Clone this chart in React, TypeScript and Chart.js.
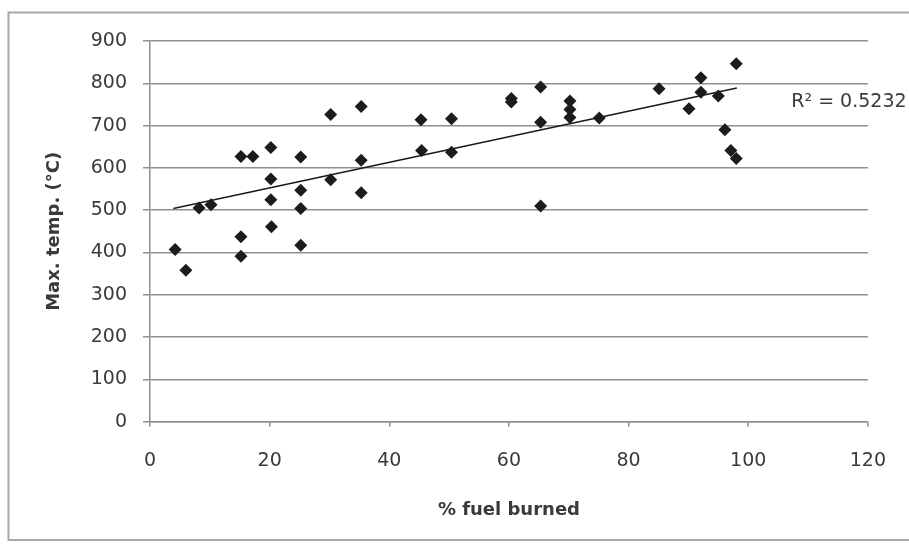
import React, { useEffect, useRef } from "react";
import { Chart, registerables } from "chart.js";

Chart.register(...registerables);

// % fuel burned
const fuelBurned = [
  4.2, 6.0, 8.2, 10.2, 15.2, 17.2, 15.2, 15.2, 20.2, 20.2, 20.2, 20.3, 25.2, 25.2, 25.2, 25.2,
  30.2, 30.2, 35.3, 35.3, 35.3, 45.3, 45.4, 50.4, 50.4, 60.4, 60.4, 65.3, 65.3, 65.3, 70.2,
  70.2, 70.2, 75.1, 85.1, 92.1, 92.1, 90.1, 95.0, 98.0, 96.1, 97.1, 98.0,
];
// Max. temp (°C)
const maxTemp = [
  407, 358, 505, 513, 627, 627, 437, 391, 648, 574, 525, 461, 626, 547, 504, 417,
  726, 572, 745, 618, 541, 714, 641, 716, 637, 764, 756, 791, 708, 510, 758,
  738, 719, 718, 787, 813, 779, 740, 770, 846, 690, 641, 622,
];
// Linear trendline end points
const trendX = [3.9, 98.1];
const trendY = [504, 789];
const rSquaredLabel = "R² = 0.5232";
const rLabelPos = { x: 107.2, y: 756 };

const xTicks = [0, 20, 40, 60, 80, 100, 120];
const yTicks = [0, 100, 200, 300, 400, 500, 600, 700, 800, 900];

const FONT = "'DejaVu Sans', sans-serif";
const GRID = "#8f8f8f";
const TEXT = "#3a3a3a";

export default function App() {
  const ref = useRef<HTMLCanvasElement | null>(null);

  useEffect(() => {
    document.body.style.margin = "0";
    const canvas = ref.current;
    if (!canvas) return;

    const framePlugin = {
      id: "frame",
      beforeDraw(chart: any) {
        const ctx = chart.ctx;
        ctx.save();
        ctx.fillStyle = "#ffffff";
        ctx.fillRect(0, 0, chart.width, chart.height);
        ctx.strokeStyle = "#a8a8a8";
        ctx.lineWidth = 2;
        ctx.strokeRect(8.5, 12.5, chart.width + 10, 527.5);
        ctx.restore();
      },
    };

    const rLabelPlugin = {
      id: "rlabel",
      afterDatasetsDraw(chart: any) {
        const ctx = chart.ctx;
        const xs = chart.scales.x;
        const ys = chart.scales.y;
        ctx.save();
        ctx.font = `19px ${FONT}`;
        ctx.fillStyle = TEXT;
        ctx.textAlign = "left";
        ctx.textBaseline = "middle";
        ctx.fillText(rSquaredLabel, xs.getPixelForValue(rLabelPos.x), ys.getPixelForValue(rLabelPos.y));
        ctx.restore();
      },
    };

    const chart = new Chart(canvas, {
      type: "scatter",
      data: {
        datasets: [
          {
            type: "scatter",
            label: "data",
            data: fuelBurned.map((x, i) => ({ x, y: maxTemp[i] })),
            pointStyle: "rectRot",
            pointRadius: 6.5,
            backgroundColor: "#1c1c1c",
            borderColor: "#1c1c1c",
            borderWidth: 0,
            order: 2,
          },
          {
            type: "line",
            label: "trend",
            data: trendX.map((x, i) => ({ x, y: trendY[i] })),
            borderColor: "#1a1a1a",
            borderWidth: 1.6,
            pointRadius: 0,
            fill: false,
            order: 1,
          } as any,
        ],
      },
      options: {
        animation: false,
        responsive: false,
        maintainAspectRatio: false,
        events: [],
        layout: { padding: { top: 41, right: 38.3, bottom: 0, left: 0 } },
        plugins: {
          legend: { display: false },
          tooltip: { enabled: false },
        },
        scales: {
          x: {
            type: "linear",
            min: 0,
            max: 120,
            afterBuildTicks: (s: any) => {
              s.ticks = xTicks.map((v) => ({ value: v }));
            },
            afterFit: (s: any) => {
              s.height = 128.3;
            },
            border: { display: true, color: GRID, width: 1.5 },
            grid: { drawOnChartArea: false, drawTicks: true, tickLength: 5, color: GRID, lineWidth: 1.5 },
            ticks: { padding: 23, color: TEXT, font: { family: FONT, size: 19 }, maxRotation: 0 },
            title: {
              display: true,
              text: "% fuel burned",
              color: TEXT,
              font: { family: FONT, size: 18, weight: "bold" },
              padding: { top: 0, bottom: 29 },
            },
          },
          y: {
            type: "linear",
            min: 0,
            max: 900,
            afterBuildTicks: (s: any) => {
              s.ticks = yTicks.map((v) => ({ value: v }));
            },
            afterFit: (s: any) => {
              s.width = 150;
            },
            border: { display: true, color: GRID, width: 1.5 },
            grid: { drawOnChartArea: true, drawTicks: true, tickLength: 7, color: GRID, lineWidth: 1.5 },
            ticks: { padding: 16, color: TEXT, font: { family: FONT, size: 19 } },
            title: {
              display: true,
              text: "Max. temp. (°C)",
              color: TEXT,
              font: { family: FONT, size: 18, weight: "bold" },
              padding: { top: 44, bottom: 0 },
            },
          },
        },
      },
      plugins: [framePlugin, rLabelPlugin],
    } as any);

    return () => chart.destroy();
  }, []);

  return (
    <div style={{ width: 909, height: 550 }}>
      <canvas ref={ref} width={909} height={550} style={{ display: "block", width: 909, height: 550 }} />
    </div>
  );
}
